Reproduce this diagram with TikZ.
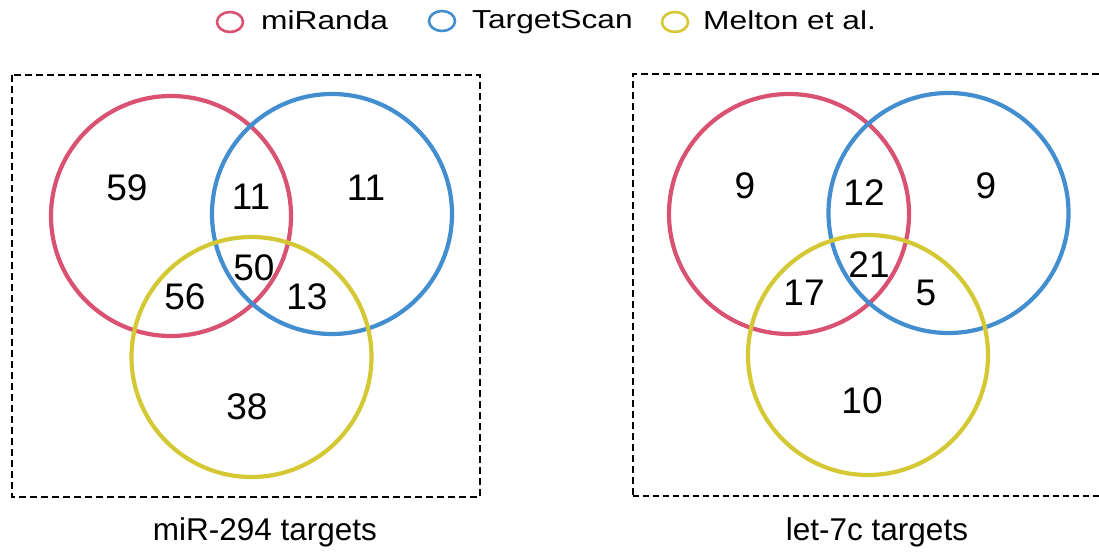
\documentclass[tikz,border=0pt]{standalone}
\usepackage{fontspec}
\setmainfont{Liberation Sans}
\usetikzlibrary{shapes.geometric}
\definecolor{cred}{RGB}{217,82,114}
\definecolor{cblue}{RGB}{66,142,207}
\definecolor{cyel}{RGB}{212,200,52}
\newcommand{\legstretch}[1]{\scalebox{1.22}[1]{#1}}
\begin{document}
\begin{tikzpicture}[x=1pt,y=-1pt,
  venn/.style={draw, line width=4.2pt, circle, minimum size=240pt, inner sep=0pt},
  num/.style={inner sep=0pt, font=\fontsize{37}{37}\selectfont},
  captext/.style={inner sep=0pt, anchor=base, font=\fontsize{31.5}{31.5}\selectfont},
  legtext/.style={inner sep=0pt, anchor=base west, font=\fontsize{26}{26}\selectfont},
  legmark/.style={draw, line width=2.6pt, ellipse, minimum width=26pt, minimum height=20pt, inner sep=0pt},
  boxdash/.style={line width=2.5pt, dash pattern=on 7pt off 4pt},
  thindash/.style={line width=1.3pt, dash pattern=on 6pt off 4pt}]
\useasboundingbox (0,0) rectangle (1099,552);
% legend
\node[legmark, cred] (lm1) at (230,22) {};
\node[legtext] (lt1) at (261,29) {\legstretch{miRanda}};
\node[legmark, cblue] (lm2) at (442,21) {};
\node[legtext] (lt2) at (472,28) {\legstretch{TargetScan}};
\node[legmark, cyel] (lm3) at (675,22) {};
\node[legtext] (lt3) at (703,29) {\legstretch{Melton et al.}};
% boxes
\draw[boxdash] (12,75) rectangle (480,497);
\draw[boxdash] (1099,74) -- (633,74) -- (633,496);
\draw[thindash] (633,496) -- (1099,496);
% left venn
\node[venn, cred] (lr) at (171,216) {};
\node[venn, cblue] (lb) at (332,214) {};
\node[venn, cyel] (ly) at (251.5,357) {};
\node[num] (n1) at (127,188) {59};
\node[num] (n2) at (251,197) {11};
\node[num] (n3) at (366,188) {11};
\node[num] (n4) at (185,297) {56};
\node[num] (n5) at (254,268) {50};
\node[num] (n6) at (307,297) {13};
\node[num] (n7) at (247,407) {38};
% right venn
\node[venn, cred] (rr) at (789,214) {};
\node[venn, cblue] (rb) at (948.5,213) {};
\node[venn, cyel] (ry) at (868,355) {};
\node[num] (m1) at (745,186) {9};
\node[num] (m2) at (864,193) {12};
\node[num] (m3) at (986,186) {9};
\node[num] (m4) at (869,265) {21};
\node[num] (m5) at (804,293) {17};
\node[num] (m6) at (926,293) {5};
\node[num] (m7) at (862,401) {10};
% captions
\node[captext] (c1) at (265,540) {miR-294 targets};
\node[captext] (c2) at (877,540) {let-7c targets};
\end{tikzpicture}
\end{document}
